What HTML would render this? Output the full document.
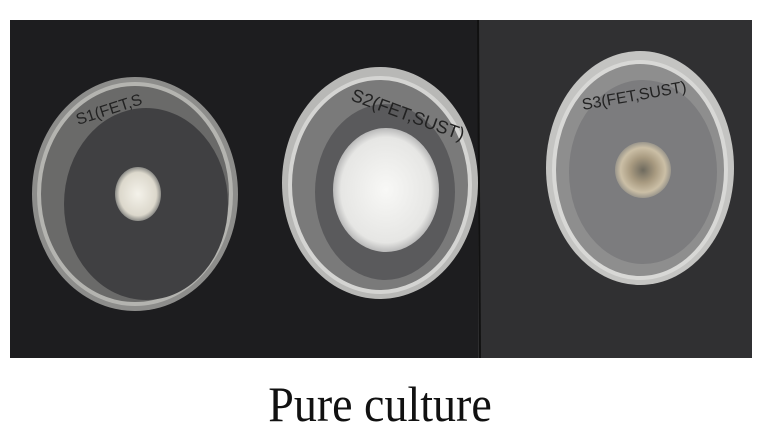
<!DOCTYPE html>
<html><head><meta charset="utf-8"><style>
body{margin:0;background:#fff;width:760px;height:443px;overflow:hidden;position:relative}
svg{position:absolute;left:0;top:0}
.cap{position:absolute;left:0;width:760px;top:378px;text-align:center;font-family:"Liberation Serif",serif;font-size:46px;color:#111;transform:scaleY(1.08)}
</style></head><body>
<svg width="760" height="443">
<defs>
<radialGradient id="c1"><stop offset="0" stop-color="#f4f2ea"/><stop offset=".8" stop-color="#dcd8cc"/><stop offset="1" stop-color="#8a8a86"/></radialGradient>
<radialGradient id="c2"><stop offset="0" stop-color="#f8f8f6"/><stop offset=".85" stop-color="#e6e6e4"/><stop offset="1" stop-color="#b8b8b8"/></radialGradient>
<radialGradient id="c3"><stop offset="0" stop-color="#6e6a5e"/><stop offset=".45" stop-color="#a89a80"/><stop offset=".8" stop-color="#cbbfa6"/><stop offset="1" stop-color="#9a968c"/></radialGradient>
</defs>
<rect x="10" y="20" width="468" height="338" fill="#1d1d1f"/>
<rect x="478" y="20" width="274" height="338" fill="#303032"/>
<line x1="478" y1="20" x2="480" y2="358" stroke="#111" stroke-width="2"/>
<g>
<ellipse cx="135" cy="194" rx="103" ry="117" fill="#8d8d8b"/>
<ellipse cx="135" cy="194" rx="96" ry="110" fill="#6a6a69" stroke="#b4b4b0" stroke-width="4"/>
<ellipse cx="146" cy="204" rx="82" ry="96" fill="#404042"/>
<ellipse cx="138" cy="194" rx="23" ry="27" fill="url(#c1)"/>
<text x="78" y="125" transform="rotate(-18 78 125)" font-family="Liberation Sans,sans-serif" font-size="16" fill="#222">S1(FET,S</text>
</g>
<g>
<ellipse cx="380" cy="183" rx="98" ry="116" fill="#b8b8b6"/>
<ellipse cx="380" cy="185" rx="90" ry="107" fill="#7a7a7a" stroke="#d4d4d2" stroke-width="4"/>
<ellipse cx="385" cy="192" rx="70" ry="88" fill="#5a5a5c"/>
<ellipse cx="386" cy="190" rx="53" ry="62" fill="url(#c2)"/>
<text x="350" y="100" transform="rotate(20 350 100)" font-family="Liberation Sans,sans-serif" font-size="18" fill="#222">S2(FET,SUST)</text>
</g>
<g>
<ellipse cx="640" cy="168" rx="94" ry="117" fill="#c4c4c2"/>
<ellipse cx="640" cy="170" rx="86" ry="108" fill="#8e8e8e" stroke="#d8d8d6" stroke-width="4"/>
<ellipse cx="643" cy="172" rx="74" ry="92" fill="#7c7c7e"/>
<ellipse cx="643" cy="170" rx="28" ry="28" fill="url(#c3)"/>
<text x="583" y="110" transform="rotate(-10 583 110)" font-family="Liberation Sans,sans-serif" font-size="16" fill="#222">S3(FET,SUST)</text>
</g>
</svg>
<div class="cap">Pure culture</div>
</body></html>
